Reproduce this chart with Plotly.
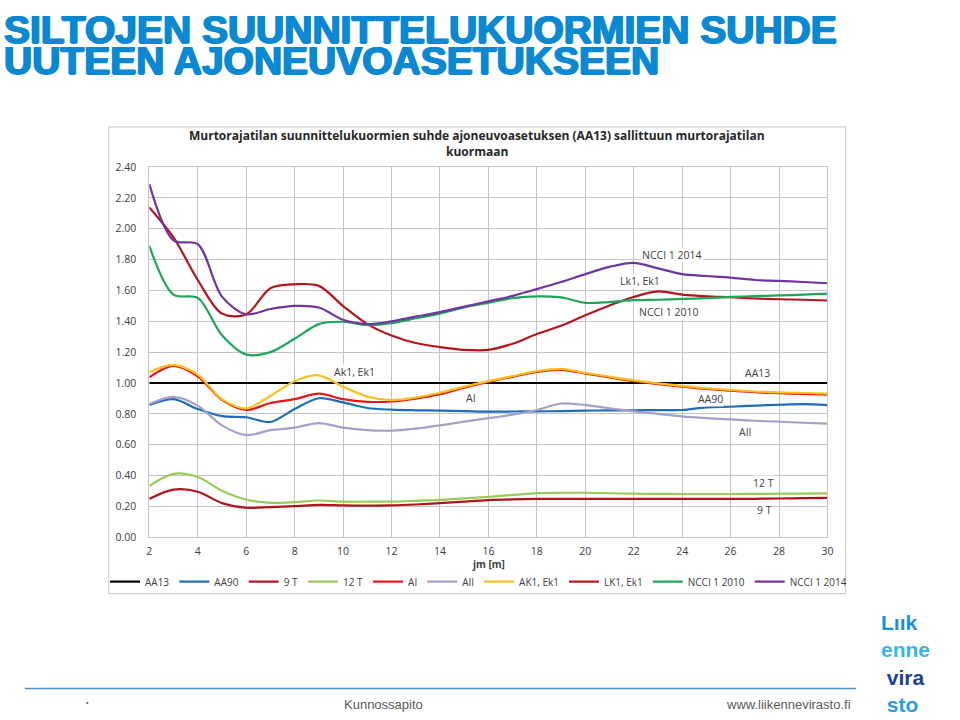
import plotly.graph_objects as go

# ---------------- data ----------------
jm = list(range(2, 31))  # span [m]

aa13 = [1.0] * len(jm)
aa90 = [0.857, 0.895, 0.831, 0.785, 0.778, 0.747, 0.831, 0.901, 0.874, 0.838,
        0.827, 0.823, 0.821, 0.818, 0.814, 0.815, 0.816, 0.818, 0.821, 0.822,
        0.823, 0.824, 0.825, 0.842, 0.846, 0.853, 0.859, 0.863, 0.857]
t9 = [0.248, 0.308, 0.295, 0.221, 0.191, 0.195, 0.201, 0.210, 0.206, 0.205,
      0.206, 0.212, 0.221, 0.231, 0.240, 0.245, 0.248, 0.248, 0.248, 0.248,
      0.248, 0.248, 0.248, 0.248, 0.248, 0.249, 0.251, 0.253, 0.255]
t12 = [0.333, 0.411, 0.390, 0.301, 0.244, 0.223, 0.227, 0.238, 0.231, 0.230,
       0.231, 0.236, 0.242, 0.252, 0.262, 0.274, 0.286, 0.288, 0.288, 0.285,
       0.282, 0.281, 0.280, 0.280, 0.280, 0.281, 0.282, 0.283, 0.284]
ai = [1.037, 1.111, 1.043, 0.891, 0.825, 0.870, 0.895, 0.931, 0.895, 0.878,
      0.880, 0.899, 0.927, 0.969, 1.007, 1.040, 1.072, 1.085, 1.061, 1.036,
      1.012, 0.993, 0.976, 0.961, 0.950, 0.940, 0.934, 0.929, 0.925]
aii = [0.863, 0.910, 0.853, 0.725, 0.662, 0.694, 0.711, 0.740, 0.711, 0.694,
       0.691, 0.704, 0.725, 0.750, 0.772, 0.795, 0.825, 0.867, 0.857, 0.836,
       0.816, 0.800, 0.783, 0.772, 0.764, 0.755, 0.749, 0.742, 0.736]
ak1 = [1.071, 1.118, 1.054, 0.895, 0.836, 0.916, 1.012, 1.050, 0.976, 0.912,
       0.889, 0.906, 0.937, 0.976, 1.012, 1.045, 1.077, 1.092, 1.066, 1.041,
       1.017, 0.998, 0.981, 0.966, 0.955, 0.945, 0.939, 0.935, 0.931]
lk1 = [2.139, 1.944, 1.668, 1.450, 1.445, 1.615, 1.640, 1.630, 1.499, 1.382,
       1.308, 1.259, 1.233, 1.215, 1.215, 1.255, 1.318, 1.371, 1.439, 1.503,
       1.558, 1.594, 1.573, 1.562, 1.556, 1.548, 1.543, 1.540, 1.535]
ncci2010 = [1.890, 1.573, 1.552, 1.310, 1.185, 1.200, 1.287, 1.382, 1.397, 1.376,
            1.388, 1.420, 1.450, 1.490, 1.520, 1.550, 1.562, 1.555, 1.520, 1.525,
            1.537, 1.540, 1.545, 1.550, 1.558, 1.563, 1.568, 1.573, 1.579]
ncci2014 = [2.290, 1.925, 1.900, 1.560, 1.446, 1.480, 1.500, 1.490, 1.410, 1.382,
            1.400, 1.430, 1.460, 1.495, 1.530, 1.565, 1.609, 1.655, 1.706, 1.753,
            1.779, 1.743, 1.706, 1.694, 1.683, 1.668, 1.662, 1.655, 1.647]

series = [
    ("AA13", aa13, "#000000"),
    ("AA90", aa90, "#1f6db5"),
    ("9 T", t9, "#b0141c"),
    ("12 T", t12, "#9acb5a"),
    ("AI", ai, "#e8161c"),
    ("AII", aii, "#a4a0c8"),
    ("AK1, Ek1", ak1, "#f9c020"),
    ("LK1, Ek1", lk1, "#b3151d"),
    ("NCCI 1 2010", ncci2010, "#1fa55a"),
    ("NCCI 1 2014", ncci2014, "#7034a0"),
]

# in-chart labels: (text, x, y)
labels = [
    ("NCCI 1 2014", 23.57, 1.831),
    ("Lk1, Ek1", 22.25, 1.662),
    ("NCCI 1 2010", 23.44, 1.462),
    ("Ak1, Ek1", 10.48, 1.074),
    ("AI", 15.29, 0.901),
    ("AA13", 27.11, 1.068),
    ("AA90", 25.16, 0.897),
    ("AII", 26.60, 0.683),
    ("12 T", 27.37, 0.352),
    ("9 T", 27.40, 0.174),
]

xticks = list(range(2, 31, 2))

# ---------------- figure ----------------
W, H = 960, 720
def px(x):
    return x / W
def py(y):
    return 1 - y / H

fig = go.Figure()
for name, vals, col in series:
    fig.add_trace(go.Scatter(
        x=jm, y=vals, name=name, mode="lines",
        line=dict(color=col, width=2.2, shape="spline", smoothing=0.9),
    ))

grid = "#c4c4c4"
tickfont = dict(family="Open Sans", size=10.5, color="#404040")

fig.update_layout(
    width=W, height=H, autosize=False,
    margin=dict(l=0, r=0, t=0, b=0),
    paper_bgcolor="white", plot_bgcolor="white",
    showlegend=True,
    legend=dict(orientation="h", x=px(480), xanchor="center",
                y=py(586), yanchor="middle",
                font=dict(family="Open Sans", size=10, color="#404040"),
                itemwidth=30, tracegroupgap=0, bgcolor="rgba(0,0,0,0)"),
    xaxis=dict(domain=[px(147.7), px(832.3)], range=[2, 30],
               tickvals=xticks, showgrid=True, gridcolor=grid, gridwidth=1,
               showline=True, linecolor=grid, mirror=True, zeroline=False,
               tickfont=tickfont, ticks="", ticklabelstandoff=4),
    yaxis=dict(domain=[py(540.7), py(163.3)], range=[0, 2.4], dtick=0.2,
               tickformat=".2f", showgrid=True, gridcolor=grid, gridwidth=1,
               showline=True, linecolor=grid, mirror=True, zeroline=False,
               tickfont=tickfont, ticks="", ticklabelstandoff=10),
)

shapes = [
    # chart frame
    dict(type="rect", xref="paper", yref="paper",
         x0=px(106.7), x1=px(850.7), y0=py(598.3), y1=py(122.3),
         line=dict(color="#c8c8c8", width=1), layer="below"),
    # footer rule
    dict(type="line", xref="paper", yref="paper",
         x0=px(22), x1=px(861), y0=py(695), y1=py(695),
         line=dict(color="#4a93bd", width=1.5)),
]
fig.update_layout(shapes=shapes)

ann = []
for text, x, y in labels:
    ann.append(dict(text=text, x=x, y=y, xref="x", yref="y", showarrow=False,
                    font=dict(family="Open Sans", size=10.5, color="#404040"),
                    bgcolor="white", borderpad=0))

# chart title
ann.append(dict(text="<b>Murtorajatilan suunnittelukuormien suhde ajoneuvoasetuksen (AA13) sallittuun murtorajatilan</b>",
                x=px(478.5), y=py(131), xref="paper", yref="paper", showarrow=False,
                xanchor="center", yanchor="middle",
                font=dict(family="Open Sans", size=12, color="#262626")))
ann.append(dict(text="<b>kuormaan</b>",
                x=px(478.5), y=py(147), xref="paper", yref="paper", showarrow=False,
                xanchor="center", yanchor="middle",
                font=dict(family="Open Sans", size=12, color="#262626")))
# x axis title
ann.append(dict(text="<b>jm [m]</b>", x=px(490), y=py(568), xref="paper", yref="paper",
                showarrow=False, xanchor="center", yanchor="middle", borderpad=0,
                font=dict(family="Open Sans", size=10, color="#404040")))

# slide title
title_col = "#0a88d2"
thick = ", ".join(["1px 0px 0px " + title_col, "-1px 0px 0px " + title_col,
                   "0px 1px 0px " + title_col])
for txt, ytop in [("SILTOJEN SUUNNITTELUKUORMIEN SUHDE", 0), ("UUTEEN AJONEUVOASETUKSEEN", 32)]:
    ann.append(dict(text="<b>" + txt + "</b>", x=0.0, y=py(ytop), xref="paper", yref="paper",
                    showarrow=False, xanchor="left", yanchor="top", borderpad=0,
                    font=dict(family="Liberation Sans", size=39, color=title_col,
                              shadow=thick)))

# footer
foot = dict(family="Liberation Sans", size=13, color="#595959")
ann.append(dict(text="Kunnossapito", x=px(384), y=py(711), xref="paper", yref="paper",
                showarrow=False, xanchor="center", yanchor="middle", font=foot))
ann.append(dict(text="www.liikennevirasto.fi", x=px(858), y=py(711), xref="paper", yref="paper",
                showarrow=False, xanchor="right", yanchor="middle", font=foot))
ann.append(dict(text="•", x=px(85), y=py(709), xref="paper", yref="paper",
                showarrow=False, xanchor="center", yanchor="middle",
                font=dict(family="Liberation Sans", size=7, color="#595959")))

# logo (single text block, one coloured line per word)
logo_text = ("<span style='color:#1b8fd6'>Lıık</span><br>"
             "<span style='color:#35b6e6'>enne</span><br>"
             "<span style='color:#1c3f94'>&nbsp;vira</span><br>"
             "<span style='color:#2aa0da'>&nbsp;sto</span>")
ann.append(dict(text="<b>" + logo_text + "</b>", x=px(884), y=py(670), xref="paper", yref="paper",
                showarrow=False, xanchor="left", yanchor="middle", align="left",
                font=dict(family="Liberation Sans", size=21, color="#1b8fd6")))

fig.update_layout(annotations=ann)
fig.write_html("out.html", config={"displayModeBar": False},
               post_script="document.body.style.margin='0';"
                           "document.documentElement.style.overflow='hidden';")
